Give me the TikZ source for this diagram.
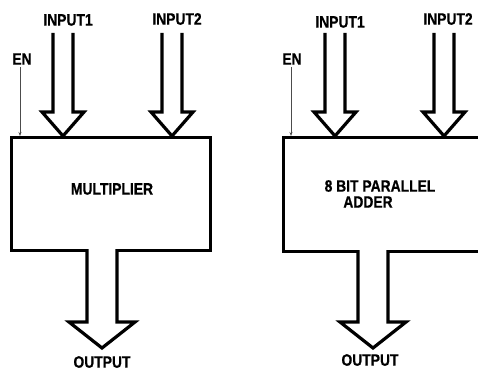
\documentclass[tikz,border=0pt]{standalone}
\usepackage{fontspec}
\newfontfamily\lblfont[FakeStretch=0.84,BoldFeatures={FakeBold=0.6}]{Liberation Sans}
\usetikzlibrary{arrows.meta}
\newcommand{\harrow}[6]{% x, ytop, yhead, ytip, shaft half width, head half width
  \draw[hollow] (#1-#5,#2) -- (#1-#5,#3) -- (#1-#6,#3) -- (#1,#4) -- (#1+#6,#3) -- (#1+#5,#3) -- (#1+#5,#2);
}
\begin{document}
\begin{tikzpicture}[x=1pt,y=-1pt,
  lbl/.style={font=\lblfont\bfseries\fontsize{16.5}{18}\selectfont, inner sep=0pt},
  blockbox/.style={draw, line width=3.2pt, line join=miter},
  hollow/.style={draw, line width=3.2pt, line join=miter, fill=white},
  enline/.style={draw=black!70, line width=0.7pt, -{Stealth[length=4pt,width=3pt]}}]
\useasboundingbox (0,0) rectangle (478,371);
% left block
\node[blockbox, minimum width=199pt, minimum height=113pt, anchor=north west] (mul) at (10,136) {};
\node[lbl] (multxt) at (112,189) {MULTIPLIER};
\harrow{63}{33}{112}{136}{10}{21}
\harrow{172}{33}{112}{136}{10}{21}
\harrow{102}{249}{322}{348}{15}{33}
\node[lbl] (in1a) at (68,20) {INPUT1};
\node[lbl] (in2a) at (177,19) {INPUT2};
\node[lbl] (ena) at (22,59) {EN};
\node[lbl] (outa) at (102,362) {OUTPUT};
\coordinate (ena0) at (20,67);
\coordinate (ena1) at (20,136);
\draw[enline] (ena0) -- (ena1);
% right block
\node[blockbox, minimum width=210pt, minimum height=114pt, anchor=north west] (add) at (282,136) {};
\node[lbl] (addtxt1) at (380,186) {8 BIT PARALLEL};
\node[lbl] (addtxt2) at (368,202) {ADDER};
\harrow{335}{33}{112}{136}{10}{21}
\harrow{444}{33}{112}{136}{10}{21}
\harrow{373}{250}{322}{348}{15}{33}
\node[lbl] (in1b) at (340,22) {INPUT1};
\node[lbl] (in2b) at (448,19) {INPUT2};
\node[lbl] (enb) at (292,59) {EN};
\node[lbl] (outb) at (370,360) {OUTPUT};
\coordinate (enb0) at (291,67);
\coordinate (enb1) at (291,136);
\draw[enline] (enb0) -- (enb1);
\end{tikzpicture}
\end{document}
